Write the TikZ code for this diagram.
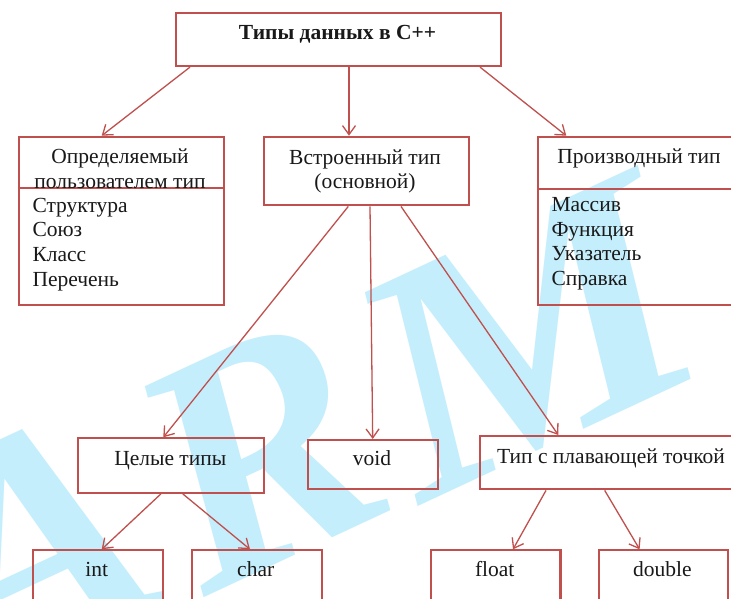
\documentclass[tikz,border=0pt]{standalone}
\usepackage{fontspec}
\setmainfont{Liberation Serif}
\usetikzlibrary{arrows.meta,calc}
\definecolor{boxred}{RGB}{192,80,77}
\definecolor{ink}{RGB}{25,25,25}
\definecolor{wmark}{RGB}{197,238,252}

\begin{document}
\begin{tikzpicture}[x=1pt,y=-1pt,
  box/.style={draw=boxred, line width=2.1pt, inner sep=0pt, anchor=north west},
  divline/.style={draw=boxred, line width=2.1pt},
  lbl/.style={text=ink, font=\fontsize{21.5}{25}\selectfont, inner sep=0pt, anchor=base},
  item/.style={lbl, anchor=base west},
  arr/.style={draw=boxred, line width=1.3pt, -{Straight Barb[length=9pt,width=13pt]}},
  wm/.style={text=wmark, font=\fontsize{330}{330}\selectfont\bfseries\itshape, inner sep=0pt, anchor=base west, rotate=25}]

\useasboundingbox (0,0) rectangle (731,598);
\fill[white] (0,0) rectangle (731,598);
\clip (0,0) rectangle (731,598);

% watermark letters
\node[wm] (wa) at (-20,690) {A};
\node[wm] (wr) at (204,598) {R};
\node[wm, xscale=1.12] (wmm) at (422,505) {M};

% boxes
\node[box, minimum width=325, minimum height=53.3] (top) at (175,11.7) {};
\node[box, minimum width=205, minimum height=168.6] (udt) at (17.7,135.7) {};
\node[box, minimum width=205.6, minimum height=68.6] (bt) at (262.7,135.7) {};
\node[box, minimum width=204, minimum height=168.3] (der) at (537,135.7) {};
\node[box, minimum width=186, minimum height=54.4] (ints) at (77.3,437.3) {};
\node[box, minimum width=129.4, minimum height=49.3] (void) at (307.3,439) {};
\node[box, minimum width=260, minimum height=53.3] (flt) at (479.3,435) {};
\node[box, minimum width=130, minimum height=70] (int) at (31.7,549.3) {};
\node[box, minimum width=130, minimum height=70] (char) at (190.7,549.3) {};
\node[box, minimum width=129.4, minimum height=70] (float) at (430,549.3) {};
\node[box, minimum width=129.3, minimum height=70] (double) at (597.7,549.3) {};

% header dividers
\draw[divline] ($(udt.north west)+(0,52.6)$) -- ($(udt.north east)+(0,52.6)$);
\draw[divline] ($(der.north west)+(0,53.3)$) -- ($(der.north east)+(0,53.3)$);

% labels
\node[lbl, font=\fontsize{21.5}{25}\selectfont\bfseries] (ttop) at (337.5,39.5) {Типы данных в С++};
\node[lbl] (tudt1) at (120,163.3) {Определяемый};
\node[lbl] (tudt2) at (120,188) {пользователем тип};
\node[item] (s1) at (32.3,212.7) {Структура};
\node[item] (s2) at (32.3,236.7) {Союз};
\node[item] (s3) at (32.3,261.7) {Класс};
\node[item] (s4) at (32.3,286.7) {Перечень};
\node[lbl] (tbt1) at (365,164.3) {Встроенный тип};
\node[lbl] (tbt2) at (365,188.3) {(основной)};
\node[lbl] (tder) at (639,163.3) {Производный тип};
\node[item] (d1) at (551.3,211.7) {Массив};
\node[item] (d2) at (551.3,236.7) {Функция};
\node[item] (d3) at (551.3,260.7) {Указатель};
\node[item] (d4) at (551.3,285.7) {Справка};
\node[lbl] (tints) at (170.3,465) {Целые типы};
\node[lbl] (tvoid) at (372,465) {void};
\node[lbl] (tflt) at (611,463.3) {Тип с плавающей точкой};
\node[lbl] (tint) at (96.7,576.7) {int};
\node[lbl] (tchar) at (255.7,576.7) {char};
\node[lbl] (tfloat) at (494.7,576.7) {float};
\node[lbl] (tdouble) at (662.3,576.7) {double};

% connectors
\draw[arr] ($(top.south west)+(15,0)$) -- ($(udt.north west)+(84,0)$);
\draw[arr] ($(top.south west)+(174,0)$) -- ($(bt.north west)+(86.3,0)$);
\draw[arr] ($(top.south west)+(305,0)$) -- ($(der.north west)+(29.3,0)$);
\draw[arr] ($(bt.south west)+(85.6,0)$) -- ($(ints.north west)+(86,0)$);
\draw[arr] ($(bt.south west)+(107.3,0)$) -- ($(void.north west)+(65.4,0)$);
\draw[arr] ($(bt.south west)+(138.3,0)$) -- ($(flt.north west)+(79,0)$);
\draw[arr] ($(ints.south west)+(83.7,0)$) -- ($(int.north west)+(70,0)$);
\draw[arr] ($(ints.south west)+(105.4,0)$) -- ($(char.north west)+(59.3,0)$);
\draw[arr] ($(flt.south west)+(66.7,0)$) -- ($(float.north west)+(83,0)$);
\draw[arr] ($(flt.south west)+(125.4,0)$) -- ($(double.north west)+(41.9,0)$);
\end{tikzpicture}
\end{document}
